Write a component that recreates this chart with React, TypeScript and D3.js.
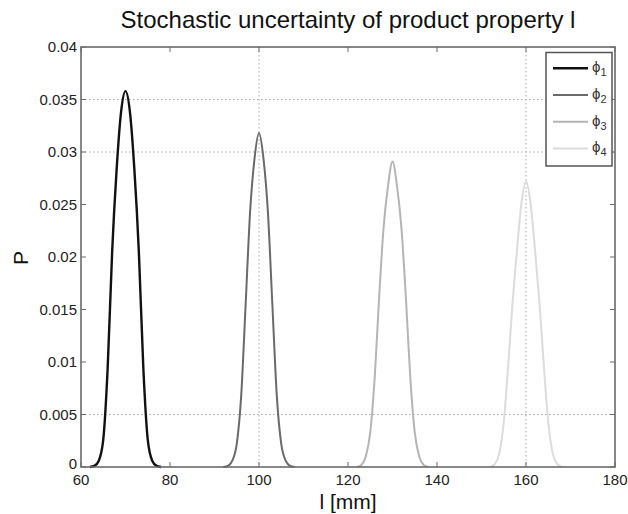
import React from "react";
import * as d3 from "d3";

const xTicks = [60, 80, 100, 120, 140, 160, 180];
const yTicks = [0, 0.005, 0.01, 0.015, 0.02, 0.025, 0.03, 0.035, 0.04];
const xGrid = [100, 160];
const yGrid = [0.005, 0.03, 0.035];

const seriesNames = ["1", "2", "3", "4"];
const seriesColors = ["#111111", "#6a6a6a", "#b4b4b4", "#dcdcdc"];

const phi1X = [62, 63, 64, 65, 66, 67, 68, 69, 70, 71, 72, 73, 74, 75, 76, 77, 78];
const phi1Y = [0, 0.0001, 0.0006, 0.0026, 0.0095, 0.0205, 0.0283, 0.0338, 0.0358, 0.0338, 0.0283, 0.0205, 0.0095, 0.0026, 0.0006, 0.0001, 0];

const phi2X = [92, 93, 94, 95, 96, 97, 98, 99, 100, 101, 102, 103, 104, 105, 106, 107, 108];
const phi2Y = [0, 0.0001, 0.0006, 0.0022, 0.0068, 0.0155, 0.0243, 0.0294, 0.0318, 0.0294, 0.0243, 0.0155, 0.0068, 0.0022, 0.0006, 0.0001, 0];

const phi3X = [122, 123, 124, 125, 126, 127, 128, 129, 130, 131, 132, 133, 134, 135, 136, 137, 138];
const phi3Y = [0, 0.0002, 0.001, 0.0033, 0.0085, 0.0162, 0.0228, 0.0268, 0.0291, 0.0268, 0.0228, 0.0162, 0.0085, 0.0033, 0.001, 0.0002, 0];

const phi4X = [152, 153, 154, 155, 156, 157, 158, 159, 160, 161, 162, 163, 164, 165, 166, 167, 168];
const phi4Y = [0, 0.0003, 0.0013, 0.0043, 0.0097, 0.0158, 0.0208, 0.0252, 0.0272, 0.0252, 0.0208, 0.0158, 0.0097, 0.0043, 0.0013, 0.0003, 0];

const seriesX = [phi1X, phi2X, phi3X, phi4X];
const seriesY = [phi1Y, phi2Y, phi3Y, phi4Y];

const W = 628, H = 514;
const L = 81, R = 615, T = 47, B = 467;
const FONT = "'Liberation Sans', Arial, Helvetica, sans-serif";

export default function App() {
  const x = d3.scaleLinear().domain([60, 180]).range([L, R]);
  const y = d3.scaleLinear().domain([0, 0.04]).range([B, T]);
  const line = d3
    .line<[number, number]>()
    .x((d) => x(d[0]))
    .y((d) => y(d[1]))
    .curve(d3.curveMonotoneX);

  const axisColor = "#6a6a6a";
  const gridColor = "#a8a8a8";
  const tickLen = 5;

  const legX = 546, legY = 52.5, legW = 66, legH = 113.5;
  const rowY = (i: number) => 68.3 + i * 26.7;

  return (
    <svg width={W} height={H} style={{ position: "absolute", left: 0, top: 0, background: "#fff" }} fontFamily={FONT}>
      <rect x={0} y={0} width={W} height={H} fill="#fff" />
      {yGrid.map((v) => (
        <line key={"gy" + v} x1={L} x2={R} y1={y(v)} y2={y(v)} stroke={gridColor} strokeWidth={1} strokeDasharray="1.5,2.5" />
      ))}
      {xGrid.map((v) => (
        <line key={"gx" + v} x1={x(v)} x2={x(v)} y1={T} y2={B} stroke={gridColor} strokeWidth={1} strokeDasharray="1.5,2.5" />
      ))}
      {xTicks.map((v) => (
        <g key={"xt" + v}>
          <line x1={x(v)} x2={x(v)} y1={B} y2={B - tickLen} stroke={axisColor} strokeWidth={1} />
          <line x1={x(v)} x2={x(v)} y1={T} y2={T + tickLen} stroke={axisColor} strokeWidth={1} />
          <text x={x(v)} y={485} textAnchor="middle" fontSize={15} fill="#222">{v}</text>
        </g>
      ))}
      {yTicks.map((v) => (
        <g key={"yt" + v}>
          <line x1={L} x2={L + tickLen} y1={y(v)} y2={y(v)} stroke={axisColor} strokeWidth={1} />
          <line x1={R} x2={R - tickLen} y1={y(v)} y2={y(v)} stroke={axisColor} strokeWidth={1} />
          <text x={L - 4} y={y(v) + (v === 0 ? 2 : 5)} textAnchor="end" fontSize={15} fill="#222">{String(v)}</text>
        </g>
      ))}
      {seriesX.map((xs, i) => (
        <path
          key={"s" + i}
          d={line(xs.map((xv, j) => [xv, seriesY[i][j]] as [number, number])) || ""}
          fill="none"
          stroke={seriesColors[i]}
          strokeWidth={i === 0 ? 2.4 : 2}
          strokeLinejoin="round"
        />
      ))}
      <rect x={L} y={T} width={R - L} height={B - T} fill="none" stroke={axisColor} strokeWidth={1.6} />
      <rect x={legX} y={legY} width={legW} height={legH} fill="#fff" stroke="#555" strokeWidth={1.5} />
      {seriesNames.map((n, i) => (
        <g key={"lg" + i}>
          <line x1={553} x2={588} y1={rowY(i)} y2={rowY(i)} stroke={seriesColors[i]} strokeWidth={i === 0 ? 2.4 : 2} />
          <text x={592} y={rowY(i) + 4} fontSize={15} fill="#333">
            ϕ<tspan fontSize={11} dy={4}>{n}</tspan>
          </text>
        </g>
      ))}
      <text x={348} y={28} textAnchor="middle" fontSize={24} fill="#111">Stochastic uncertainty of product property l</text>
      <text x={348} y={509} textAnchor="middle" fontSize={21} fill="#111">l [mm]</text>
      <text transform={`translate(28,258) rotate(-90)`} textAnchor="middle" fontSize={21} fill="#111">P</text>
    </svg>
  );
}
